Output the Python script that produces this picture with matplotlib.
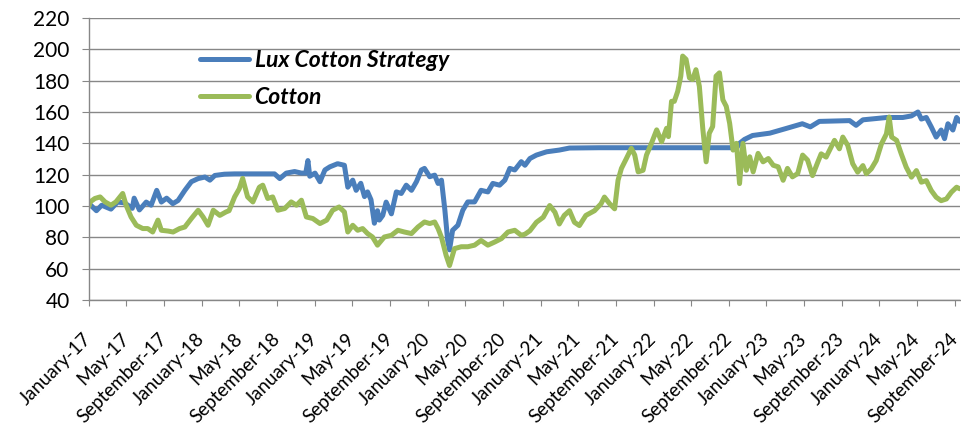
import pandas as pd
import matplotlib
matplotlib.use("Agg")
import matplotlib.pyplot as plt
from matplotlib.transforms import ScaledTranslation

plt.rcParams['font.family'] = ['Lato', 'DejaVu Sans']

# Lux Cotton Strategy
strategy_dates = [
    "2017-01-01", "2017-01-04", "2017-01-25", "2017-02-11", "2017-03-13", "2017-04-03",
    "2017-04-26", "2017-05-21", "2017-05-27", "2017-06-13", "2017-07-05", "2017-07-21",
    "2017-08-08", "2017-08-23", "2017-09-09", "2017-09-29", "2017-10-16", "2017-11-07",
    "2017-11-28", "2017-12-20", "2018-01-11", "2018-01-27", "2018-02-12", "2018-03-15",
    "2018-04-17", "2018-06-04", "2018-08-24", "2018-09-10", "2018-10-01", "2018-10-28",
    "2018-11-19", "2018-12-03", "2018-12-10", "2018-12-16", "2019-01-02", "2019-01-18",
    "2019-02-03", "2019-02-19", "2019-03-16", "2019-04-07", "2019-04-18", "2019-05-04",
    "2019-05-15", "2019-05-30", "2019-06-11", "2019-06-21", "2019-07-02", "2019-07-13",
    "2019-07-23", "2019-07-29", "2019-08-09", "2019-08-20", "2019-09-06", "2019-09-22",
    "2019-10-08", "2019-10-24", "2019-11-10", "2019-11-26", "2019-12-12", "2019-12-22",
    "2020-01-08", "2020-01-24", "2020-02-04", "2020-02-15", "2020-02-26", "2020-03-06",
    "2020-03-12", "2020-03-22", "2020-04-08", "2020-04-24", "2020-05-10", "2020-06-01",
    "2020-06-22", "2020-07-14", "2020-07-30", "2020-08-21", "2020-09-07", "2020-09-23",
    "2020-10-09", "2020-10-30", "2020-11-11", "2020-11-27", "2020-12-18", "2021-01-20",
    "2021-03-02", "2021-04-04", "2021-07-10", "2021-12-19", "2022-05-29", "2022-09-27",
    "2022-10-06", "2022-10-22", "2022-11-17", "2023-01-12", "2023-03-06", "2023-04-27",
    "2023-05-23", "2023-06-21", "2023-09-27", "2023-10-18", "2023-11-09", "2024-01-25",
    "2024-03-17", "2024-04-14", "2024-05-05", "2024-05-16", "2024-06-01", "2024-06-17",
    "2024-07-03", "2024-07-19", "2024-07-30", "2024-08-10", "2024-08-26", "2024-09-07",
    "2024-09-17",
]
strategy_values = [
    100, 101, 97, 100.5, 98, 102.5,
    102, 98.5, 105, 97.5, 102.5, 100.5,
    110, 102.5, 105, 101.5, 103.5, 110,
    115.5, 117.5, 118.5, 116.5, 119.5, 120.3,
    120.5, 120.5, 120.5, 117.5, 121, 122,
    121, 121, 129, 119, 121, 115.5,
    123, 125, 127, 126, 112, 116.5,
    110, 114.5, 106, 109, 104, 89,
    97, 91, 94, 102.5, 95, 109,
    108, 113.3, 110, 115.5, 123, 124,
    118.7, 119.7, 114.4, 116.5, 97.3, 78,
    72, 84.5, 87.7, 97.3, 102.6, 102.6,
    110, 109, 114.4, 113.3, 116.5, 124,
    123, 128.3, 126, 130.3, 132.5, 134.6,
    135.7, 137, 137.2, 137.2, 137.2, 137.2,
    140, 142.5, 145, 146.5, 149.5, 152.5,
    150.5, 154, 154.5, 151.5, 155, 156.5,
    156.5, 157.5, 160, 155.5, 156.5, 150.5,
    144, 148.5, 143, 152.5, 148.5, 156.5,
    154,
]

# Cotton
cotton_dates = [
    "2017-01-01", "2017-01-04", "2017-01-20", "2017-02-06", "2017-02-22", "2017-03-13",
    "2017-03-29", "2017-04-20", "2017-05-01", "2017-05-17", "2017-06-03", "2017-06-24",
    "2017-07-10", "2017-07-26", "2017-08-12", "2017-08-23", "2017-09-14", "2017-09-30",
    "2017-10-21", "2017-11-07", "2017-11-28", "2017-12-20", "2018-01-05", "2018-01-21",
    "2018-02-07", "2018-02-28", "2018-03-20", "2018-03-30", "2018-04-17", "2018-05-02",
    "2018-05-13", "2018-05-29", "2018-06-15", "2018-07-06", "2018-07-17", "2018-08-02",
    "2018-08-18", "2018-09-04", "2018-09-26", "2018-10-17", "2018-11-03", "2018-11-19",
    "2018-12-05", "2018-12-26", "2019-01-18", "2019-02-09", "2019-02-28", "2019-03-21",
    "2019-04-07", "2019-04-18", "2019-05-04", "2019-05-20", "2019-06-05", "2019-06-21",
    "2019-07-07", "2019-07-23", "2019-08-14", "2019-09-06", "2019-09-27", "2019-10-18",
    "2019-11-10", "2019-12-01", "2019-12-22", "2020-01-08", "2020-01-24", "2020-02-04",
    "2020-02-15", "2020-03-01", "2020-03-12", "2020-03-28", "2020-04-19", "2020-05-10",
    "2020-06-01", "2020-06-22", "2020-07-14", "2020-08-05", "2020-08-27", "2020-09-17",
    "2020-10-09", "2020-10-30", "2020-11-11", "2020-11-27", "2020-12-18", "2021-01-09",
    "2021-01-30", "2021-02-16", "2021-03-02", "2021-03-18", "2021-04-04", "2021-04-20",
    "2021-05-06", "2021-05-27", "2021-06-24", "2021-07-15", "2021-07-26", "2021-08-12",
    "2021-08-28", "2021-09-08", "2021-09-19", "2021-10-05", "2021-10-21", "2021-11-01",
    "2021-11-12", "2021-11-28", "2021-12-09", "2021-12-25", "2022-01-11", "2022-01-27",
    "2022-02-12", "2022-02-18", "2022-02-28", "2022-03-09", "2022-03-20", "2022-03-30",
    "2022-04-05", "2022-04-16", "2022-04-27", "2022-05-07", "2022-05-18", "2022-05-29",
    "2022-06-09", "2022-06-20", "2022-06-30", "2022-07-11", "2022-07-22", "2022-08-02",
    "2022-08-13", "2022-08-24", "2022-09-04", "2022-09-15", "2022-09-26", "2022-10-06",
    "2022-10-17", "2022-10-28", "2022-11-08", "2022-11-19", "2022-12-05", "2022-12-21",
    "2023-01-07", "2023-01-23", "2023-02-08", "2023-02-24", "2023-03-10", "2023-03-26",
    "2023-04-12", "2023-04-28", "2023-05-14", "2023-05-30", "2023-06-16", "2023-06-27",
    "2023-07-13", "2023-07-29", "2023-08-09", "2023-08-25", "2023-09-05", "2023-09-21",
    "2023-10-07", "2023-10-23", "2023-11-09", "2023-11-20", "2023-12-06", "2023-12-22",
    "2024-01-08", "2024-01-24", "2024-02-02", "2024-02-10", "2024-02-26", "2024-03-12",
    "2024-03-28", "2024-04-14", "2024-04-30", "2024-05-16", "2024-06-01", "2024-06-17",
    "2024-07-03", "2024-07-19", "2024-08-05", "2024-08-21", "2024-09-07", "2024-09-17",
]
cotton_values = [
    100, 102.5, 104.8, 105.8, 102.6, 100.5,
    102.6, 108, 100.5, 93, 87.7, 85.6,
    85.6, 83.4, 91, 84.5, 84, 83.4,
    85.6, 86.6, 92, 97.3, 93, 87.7,
    97.3, 94, 96.2, 97, 105.8, 111,
    117.6, 105.8, 102.6, 112, 113.3, 104.8,
    105.8, 97.3, 98.4, 102.6, 100.5, 103.7,
    93, 92, 88.8, 91, 97.3, 99.4,
    96.2, 83.4, 87.7, 84.5, 85.6, 82.4,
    80.2, 75, 80.2, 81.3, 84.5, 83.4,
    82.4, 86.6, 89.8, 88.8, 89.8, 85.6,
    80, 68.5, 62, 72.8, 74, 74,
    75, 78, 75, 77, 79.2, 83.4,
    84.5, 81.3, 82, 84.2, 89.6, 92.8,
    100.3, 96, 88.5, 94, 97, 89.6,
    87.5, 94, 97, 101.4, 105.7, 101.4,
    98.2, 116.4, 124, 130.3, 136.8, 132.5,
    121.8, 122.8, 132.5, 140, 148.6, 141,
    149.6, 144.3, 166.8, 166.8, 173.2, 182.9,
    195.7, 193.6, 181.8, 180.7, 187, 176.4,
    149.6, 128.2, 146.4, 150.7, 182.9, 185,
    167.8, 163.6, 152.8, 135.7, 140, 114.3,
    140, 122.8, 131.4, 121.8, 133.6, 128.2,
    130.3, 126, 125, 116.4, 124, 118.6,
    120.7, 132.5, 129.3, 119.4, 128, 133.3,
    131.2, 137.6, 141.9, 136.5, 144, 138.7,
    127, 121.6, 125.8, 120.6, 123.7, 129,
    139.7, 146, 156.8, 144, 141.9, 133.3,
    124.8, 118.4, 122.6, 115.2, 116.2, 109.9,
    105.6, 103.4, 104.5, 108.8, 112, 111,
]

series_names = ["Lux Cotton Strategy", "Cotton"]
series_colors = ["#4a7ebb", "#9bbb59"]
y_ticks = [40, 60, 80, 100, 120, 140, 160, 180, 200, 220]
x_tick_dates = pd.date_range("2017-01-01", "2024-09-01", freq="4MS")

grid_color = "#878787"

fig = plt.figure(figsize=(9.62, 4.43), dpi=100)
ax = fig.add_axes([89 / 962, 143 / 443, 871 / 962, 282 / 443])

ax.plot(pd.to_datetime(strategy_dates), strategy_values, color=series_colors[0],
        lw=3.6, solid_joinstyle="round", solid_capstyle="round", label=series_names[0])
ax.plot(pd.to_datetime(cotton_dates), cotton_values, color=series_colors[1],
        lw=3.6, solid_joinstyle="round", solid_capstyle="round", label=series_names[1])

ax.set_ylim(40, 220)
ax.set_yticks(y_ticks)
ax.set_xlim(pd.Timestamp("2017-01-01"), pd.Timestamp("2024-09-18"))
ax.set_xticks(x_tick_dates)
ax.set_xticklabels([d.strftime("%B-%y") for d in x_tick_dates],
                   rotation=45, ha="right", va="center", rotation_mode="anchor")

# nudge the rotated labels a little to the right, like the Excel layout
shift = ScaledTranslation(5 / 100, 0, fig.dpi_scale_trans)
for lbl in ax.get_xticklabels():
    lbl.set_transform(lbl.get_transform() + shift)

ax.yaxis.grid(True, color=grid_color, lw=1.0)
ax.set_axisbelow(True)
for side in ["top", "right"]:
    ax.spines[side].set_visible(False)
for side in ["left", "bottom"]:
    ax.spines[side].set_color(grid_color)
    ax.spines[side].set_linewidth(1.0)

ax.tick_params(axis="y", direction="out", length=5, color=grid_color,
               labelsize=15, pad=9, labelcolor="black")
ax.tick_params(axis="x", direction="out", length=4, color=grid_color,
               labelsize=13.5, pad=22, labelcolor="black")

leg = ax.legend(loc="upper left", bbox_to_anchor=(0.128, 0.888), frameon=False,
                borderpad=0, borderaxespad=0,
                handlelength=2.1, handletextpad=0.26, labelspacing=0.72,
                prop={"size": 16.5, "weight": "bold", "style": "italic"})

fig.savefig("out.png", dpi=100)
